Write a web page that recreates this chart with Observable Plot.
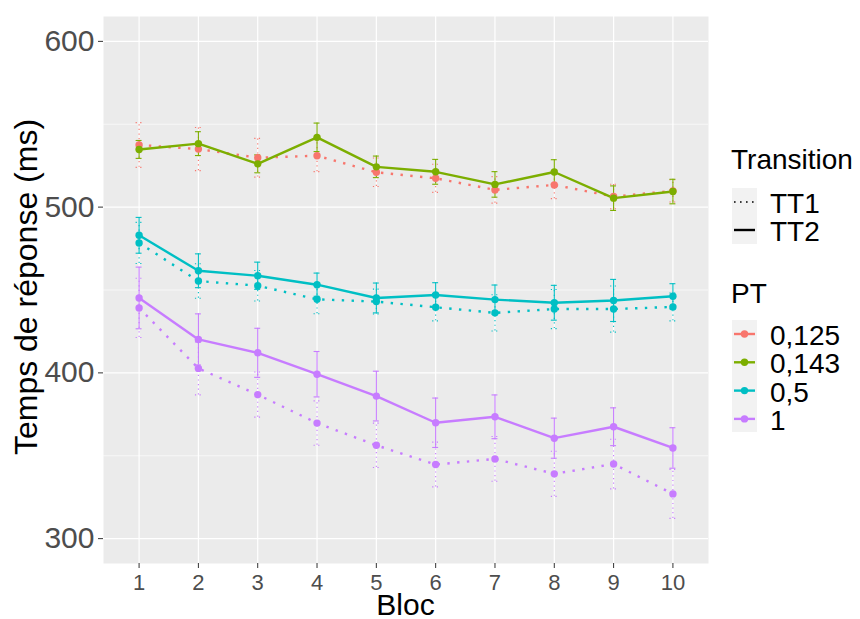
<!DOCTYPE html>
<html>
<head>
<meta charset="utf-8">
<script src="https://cdn.jsdelivr.net/npm/d3@7"></script>
<script src="https://cdn.jsdelivr.net/npm/@observablehq/plot@0.6"></script>
<style>
  body { margin: 0; background: #ffffff; }
  svg { display: block; }
</style>
</head>
<body>
<div id="chart"></div>
<script>
// ---- data ----
const blocs = [1, 2, 3, 4, 5, 6, 7, 8, 9, 10];
const ptLevels = ["0,125", "0,143", "0,5", "1"];
const ptColors = ["#F8766D", "#7CAE00", "#00BFC4", "#C77CFF"];
const transitions = ["TT1", "TT2"];
const yTicks = [300, 400, 500, 600];
const yMinor = [350, 450, 550];

// PT 0,125 — TT1
const pt0125_TT1_mean = [537.5, 535.0, 529.8, 531.0, 521.0, 517.4, 510.4, 513.4, 506.4, 509.8];
const pt0125_TT1_err  = [13.5, 13.0, 11.7, 9.6, 8.6, 8.5, 8.0, 8.3, 7.4, 6.7];
// PT 0,143 — TT2
const pt0143_TT2_mean = [534.8, 538.3, 526.1, 542.1, 524.3, 521.3, 513.7, 521.2, 505.4, 509.4];
const pt0143_TT2_err  = [5.4, 7.2, 5.4, 8.6, 6.5, 7.5, 7.7, 7.4, 7.4, 7.4];
// PT 0,5 — TT1
const pt05_TT1_mean = [478.4, 455.4, 452.6, 444.4, 443.0, 439.6, 436.2, 438.5, 438.5, 439.8];
const pt05_TT1_err  = [12.4, 10.4, 9.2, 8.7, 7.5, 8.2, 10.9, 11.8, 13.9, 8.4];
// PT 0,5 — TT2
const pt05_TT2_mean = [483.0, 461.6, 458.6, 453.2, 445.2, 447.0, 444.2, 442.3, 443.7, 446.2];
const pt05_TT2_err  = [10.8, 10.2, 8.2, 7.0, 9.0, 7.4, 8.8, 10.5, 12.7, 7.6];
// PT 1 — TT1
const pt1_TT1_mean = [439.2, 402.7, 386.9, 369.7, 356.3, 344.7, 348.1, 339.1, 345.0, 327.0];
const pt1_TT1_err  = [17.9, 16.0, 13.6, 13.4, 13.4, 13.5, 13.5, 13.6, 15.0, 14.8];
// PT 1 — TT2
const pt1_TT2_mean = [445.2, 420.2, 412.1, 399.2, 386.0, 369.9, 373.5, 360.6, 367.5, 354.7];
const pt1_TT2_err  = [18.6, 15.4, 14.8, 13.7, 15.0, 14.9, 13.2, 12.1, 11.4, 12.2];

const series = [
  {pt: "0,125", tt: "TT1", mean: pt0125_TT1_mean, err: pt0125_TT1_err},
  {pt: "0,143", tt: "TT2", mean: pt0143_TT2_mean, err: pt0143_TT2_err},
  {pt: "0,5",   tt: "TT1", mean: pt05_TT1_mean,   err: pt05_TT1_err},
  {pt: "0,5",   tt: "TT2", mean: pt05_TT2_mean,   err: pt05_TT2_err},
  {pt: "1",     tt: "TT1", mean: pt1_TT1_mean,    err: pt1_TT1_err},
  {pt: "1",     tt: "TT2", mean: pt1_TT2_mean,    err: pt1_TT2_err}
];

const rows = series.flatMap(s => blocs.map((b, i) => ({
  bloc: b, pt: s.pt, tt: s.tt, key: s.pt + "|" + s.tt,
  mean: s.mean[i], lo: s.mean[i] - s.err[i], hi: s.mean[i] + s.err[i]
})));
const rowsTT1 = rows.filter(d => d.tt === "TT1");
const rowsTT2 = rows.filter(d => d.tt === "TT2");

const FONT = "'Liberation Sans', Arial, Helvetica, sans-serif";
const capW = 0.05;

function errMarks(data, dash) {
  const o = {stroke: "pt", strokeWidth: 1.1, strokeDasharray: dash};
  return [
    Plot.ruleX(data, {x: "bloc", y1: "lo", y2: "hi", ...o}),
    Plot.ruleY(data, {y: "hi", x1: d => d.bloc - capW, x2: d => d.bloc + capW, ...o}),
    Plot.ruleY(data, {y: "lo", x1: d => d.bloc - capW, x2: d => d.bloc + capW, ...o})
  ];
}

const plot = Plot.plot({
  width: 860,
  height: 619,
  marginLeft: 103,
  marginRight: 152,
  marginTop: 16,
  marginBottom: 56,
  style: {fontFamily: FONT, background: "#ffffff", overflow: "visible"},
  x: {domain: [0.4, 10.6], axis: null},
  y: {domain: [285, 615], axis: null},
  color: {domain: ptLevels, range: ptColors},
  marks: [
    Plot.frame({fill: "#EBEBEB", stroke: null}),
    Plot.ruleY(yMinor, {stroke: "#ffffff", strokeWidth: 0.6}),
    Plot.ruleY(yTicks, {stroke: "#ffffff", strokeWidth: 1.2}),
    Plot.ruleX(blocs, {stroke: "#ffffff", strokeWidth: 1.2}),
    ...errMarks(rowsTT1, "1.2,3.4"),
    ...errMarks(rowsTT2, null),
    Plot.line(rowsTT1, {x: "bloc", y: "mean", z: "key", stroke: "pt", strokeWidth: 2.4, strokeDasharray: "2.4,7.4", strokeLinecap: "butt"}),
    Plot.line(rowsTT2, {x: "bloc", y: "mean", z: "key", stroke: "pt", strokeWidth: 2.4}),
    Plot.dot(rows, {x: "bloc", y: "mean", fill: "pt", r: 3.7}),
    Plot.axisY(yTicks, {tickSize: 5, tickPadding: 4, fontSize: 30, color: "#4D4D4D", stroke: "#333333", label: null}),
    Plot.axisX(blocs, {tickSize: 5, tickPadding: 6, fontSize: 22, color: "#4D4D4D", stroke: "#333333", label: null})
  ]
});

document.getElementById("chart").appendChild(plot);

// ---- titles and legend ----
const svg = d3.select(plot);
const g = svg.append("g")
  .attr("font-family", FONT)
  .attr("fill", "#000000")
  .attr("text-anchor", "start");

g.append("text")
  .attr("transform", "translate(37,287) rotate(-90)")
  .attr("text-anchor", "middle")
  .attr("font-size", 32)
  .text("Temps de réponse (ms)");

g.append("text")
  .attr("x", 405.5).attr("y", 615)
  .attr("text-anchor", "middle")
  .attr("font-size", 30)
  .text("Bloc");

// Transition legend
g.append("text").attr("x", 731).attr("y", 169).attr("text-anchor", "start").attr("font-size", 28).text("Transition");
g.append("rect").attr("x", 732).attr("y", 188).attr("width", 25).attr("height", 56).attr("fill", "#F2F2F2");
transitions.forEach((t, i) => {
  const cy = 202 + i * 28;
  g.append("line")
    .attr("x1", 734).attr("x2", 755).attr("y1", cy).attr("y2", cy)
    .attr("stroke", "#000000")
    .attr("stroke-width", i === 0 ? 1.6 : 2.4)
    .attr("stroke-dasharray", i === 0 ? "1.6,4.4" : null);
  g.append("text").attr("x", 770).attr("y", cy + 11).attr("text-anchor", "start").attr("font-size", 28).text(t);
});

// PT legend
g.append("text").attr("x", 731).attr("y", 303).attr("text-anchor", "start").attr("font-size", 28).text("PT");
g.append("rect").attr("x", 732).attr("y", 320).attr("width", 25).attr("height", 112).attr("fill", "#F2F2F2");
ptLevels.forEach((p, i) => {
  const cy = 334 + i * 28.3;
  g.append("line")
    .attr("x1", 734).attr("x2", 755).attr("y1", cy).attr("y2", cy)
    .attr("stroke", ptColors[i]).attr("stroke-width", 2.4);
  g.append("circle").attr("cx", 744.5).attr("cy", cy).attr("r", 3.7).attr("fill", ptColors[i]);
  g.append("text").attr("x", 770).attr("y", cy + 11).attr("text-anchor", "start").attr("font-size", 28).text(p);
});
</script>
</body>
</html>
